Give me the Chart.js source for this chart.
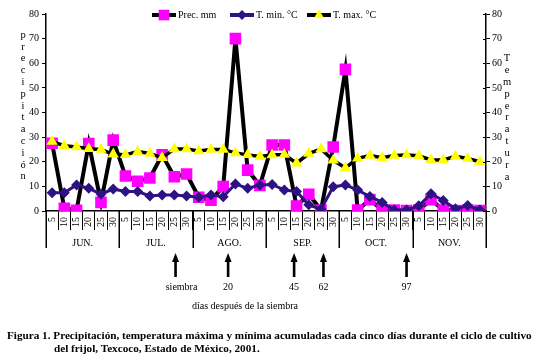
<!DOCTYPE html>
<html>
<head>
<meta charset="utf-8">
<script src="https://cdn.jsdelivr.net/npm/chart.js@4/dist/chart.umd.min.js"></script>
<style>
  html, body { margin: 0; padding: 0; background: #fff; }
  #wrap { position: relative; width: 535px; height: 364px; overflow: hidden; background: #fff; }
  #c { position: absolute; left: 0; top: 0; }
  #caption { position: absolute; left: 7px; top: 329px; font: bold 11.2px 'Liberation Serif', 'Times New Roman', serif; line-height: 12.5px; white-space: nowrap; color: #000; }
  #caption .l2 { padding-left: 47px; }
</style>
</head>
<body>
<div id="wrap">
  <canvas id="c" width="535" height="364"></canvas>
  <div id="caption"><div>Figura 1. Precipitación, temperatura máxima y mínima acumuladas cada cinco días durante el ciclo de cultivo</div><div class="l2">del frijol, Texcoco, Estado de México, 2001.</div></div>
</div>
<script>
// ---- data ----
const months = ['JUN.', 'JUL.', 'AGO.', 'SEP.', 'OCT.', 'NOV.'];
const days = ['5', '10', '15', '20', '25', '30'];
const categories = months.flatMap(() => days);

const precMm = [27.5, 1.1, 0.3, 27.4, 3.5, 28.8, 14.2, 12.1, 13.4, 22.8, 13.9, 15.0,
                5.6, 4.4, 9.9, 70.0, 16.6, 10.4, 26.8, 26.8, 2.0, 6.8, 0.4, 26.0,
                57.5, 0.4, 4.6, 0.4, 0.4, 0.2, 0.4, 4.6, 0.4, 0.2, 0.4, 0.2];
const tMin = [7.4, 7.4, 10.6, 9.2, 6.9, 8.9, 7.9, 7.9, 6.1, 6.5, 6.5, 6.1,
              5.6, 6.5, 5.8, 11.0, 9.2, 10.6, 10.8, 8.5, 7.9, 2.5, 0.7, 9.8,
              10.6, 8.5, 5.9, 3.5, 0.4, 0.4, 2.1, 7.0, 4.3, 0.9, 2.2, 0.4];
const tMax = [28.2, 26.5, 26.0, 25.3, 25.0, 23.0, 22.8, 24.1, 23.4, 21.6, 25.2, 25.2,
              24.4, 25.0, 25.0, 23.6, 22.8, 22.1, 22.7, 22.9, 19.4, 23.3, 25.2, 20.6,
              17.5, 21.4, 22.5, 21.6, 22.5, 22.7, 22.4, 20.7, 20.7, 22.2, 21.3, 20.0];

const seriesNames = ['Prec. mm', 'T. min. °C', 'T. max. °C'];
const leftTitle = 'precipitación';
const rightTitle = 'Temperatura';
// days-after-sowing markers, as positions on the category axis (index units)
const markerPos = [10.1, 14.4, 19.8, 22.2, 29.0];
const markerLabels = ['siembra', '20', '45', '62', '97'];
const markerNote = 'días después de la siembra';

// ---- styling ----
const SERIF = "'Liberation Serif', 'Times New Roman', serif";
const CHART_TOP = 14, CHART_BOTTOM = 211, LEFT_W = 46, RIGHT_W = 49;

const extras = {
  id: 'extras',
  afterDraw(chart) {
    const ctx = chart.ctx;
    const xs = chart.scales.x, y1 = chart.scales.y1;
    const area = chart.chartArea;
    ctx.save();
    ctx.fillStyle = '#000';
    ctx.strokeStyle = '#000';

    // month separators and labels
    ctx.lineWidth = 1.5;
    for (let m = 0; m <= months.length; m++) {
      const px = Math.round(xs.getPixelForValue(m * 6 - 0.5)) + 0.25;
      ctx.beginPath(); ctx.moveTo(px, area.bottom); ctx.lineTo(px, 248); ctx.stroke();
    }
    ctx.font = '10px ' + SERIF;
    ctx.textAlign = 'center'; ctx.textBaseline = 'middle';
    months.forEach((m, i) => ctx.fillText(m, xs.getPixelForValue(i * 6 + 2.5), 243));

    // inward ticks on right axis
    ctx.lineWidth = 1;
    y1.ticks.forEach(t => {
      const py = Math.round(y1.getPixelForValue(t.value)) + 0.5;
      ctx.beginPath(); ctx.moveTo(area.right - 3, py); ctx.lineTo(area.right, py); ctx.stroke();
    });

    // stacked axis titles
    ctx.font = '10.5px ' + SERIF;
    [...leftTitle].forEach((ch, i) => ctx.fillText(ch, 23, 35 + i * 11.8));
    [...rightTitle].forEach((ch, i) => ctx.fillText(ch, 507, 58.5 + i * 11.84));

    // legend
    const legendX = [152, 230, 307];
    const ly = 15;
    chart.data.datasets.forEach((ds, i) => {
      const x0 = legendX[i];
      ctx.strokeStyle = ds.borderColor; ctx.lineWidth = 4;
      ctx.beginPath(); ctx.moveTo(x0, ly); ctx.lineTo(x0 + 24, ly); ctx.stroke();
      ctx.fillStyle = ds.pointBackgroundColor; ctx.strokeStyle = ds.pointBackgroundColor;
      const r = ds.pointStyle === 'rect' ? 7.5 : (ds.pointStyle === 'triangle' ? 5.5 : 5);
      Chart.helpers.drawPoint(ctx, { pointStyle: ds.pointStyle, rotation: 0, radius: r, borderWidth: 0 }, x0 + 12, ly);
      ctx.fillStyle = '#000';
      ctx.font = '10px ' + SERIF;
      ctx.textAlign = 'left';
      ctx.fillText(ds.label, x0 + 26, ly);
    });

    // arrows
    ctx.fillStyle = '#000';
    ctx.font = '10px ' + SERIF;
    ctx.textAlign = 'center';
    markerPos.forEach((p, i) => {
      const px = xs.getPixelForValue(p);
      ctx.fillRect(px - 1.3, 260, 2.6, 17);
      ctx.beginPath();
      ctx.moveTo(px, 253); ctx.lineTo(px + 3.5, 262); ctx.lineTo(px - 3.5, 262); ctx.closePath(); ctx.fill();
      ctx.fillText(markerLabels[i], px + (i === 0 ? 6 : 0), 287);
    });
    ctx.fillText(markerNote, 245, 306);
    ctx.restore();
  }
};

new Chart(document.getElementById('c'), {
  type: 'line',
  data: {
    labels: categories,
    datasets: [
      { label: seriesNames[0], data: precMm, yAxisID: 'y', order: 3,
        borderColor: '#000000', borderWidth: 4, tension: 0,
        pointStyle: 'rect', pointRadius: 8.2, pointBackgroundColor: '#FF00FF', pointBorderColor: '#FF00FF', pointBorderWidth: 0 },
      { label: seriesNames[1], data: tMin, yAxisID: 'y1', order: 2,
        borderColor: '#2E1283', borderWidth: 3, tension: 0,
        pointStyle: 'rectRot', pointRadius: 5.5, pointBackgroundColor: '#2E1283', pointBorderColor: '#2E1283', pointBorderWidth: 0 },
      { label: seriesNames[2], data: tMax, yAxisID: 'y1', order: 1,
        borderColor: '#000000', borderWidth: 3.5, tension: 0,
        pointStyle: 'triangle', pointRadius: 6.5, pointBackgroundColor: '#FFFF00', pointBorderColor: '#FFFF00', pointBorderWidth: 0 }
    ]
  },
  options: {
    responsive: false,
    animation: false,
    devicePixelRatio: 1,
    layout: { padding: { top: CHART_TOP, left: 0, right: 0, bottom: 0 } },
    plugins: { legend: { display: false }, tooltip: { enabled: false }, title: { display: false } },
    scales: {
      x: {
        type: 'category', offset: true,
        grid: { offset: true, drawOnChartArea: false, drawTicks: true, tickLength: 19, color: '#000', lineWidth: 1 },
        border: { display: true, color: '#000', width: 1.5 },
        ticks: { autoSkip: false, minRotation: 90, maxRotation: 90, padding: -13, color: '#000', font: { family: SERIF, size: 10 } },
        afterFit: s => { s.height = 364 - CHART_BOTTOM; }
      },
      y: {
        position: 'left', min: 0, max: 80,
        ticks: { stepSize: 10, color: '#000', padding: 3, font: { family: SERIF, size: 10 } },
        grid: { drawOnChartArea: false, drawTicks: true, tickLength: 4, color: '#000' },
        border: { display: true, color: '#000', width: 1.5 },
        afterFit: s => { s.width = LEFT_W; }
      },
      y1: {
        position: 'right', min: 0, max: 80,
        ticks: { stepSize: 10, color: '#000', padding: 2, font: { family: SERIF, size: 10 } },
        grid: { drawOnChartArea: false, drawTicks: true, tickLength: 4, color: '#000' },
        border: { display: true, color: '#000', width: 1.5 },
        afterFit: s => { s.width = RIGHT_W; }
      }
    }
  },
  plugins: [extras]
});
</script>
</body>
</html>
